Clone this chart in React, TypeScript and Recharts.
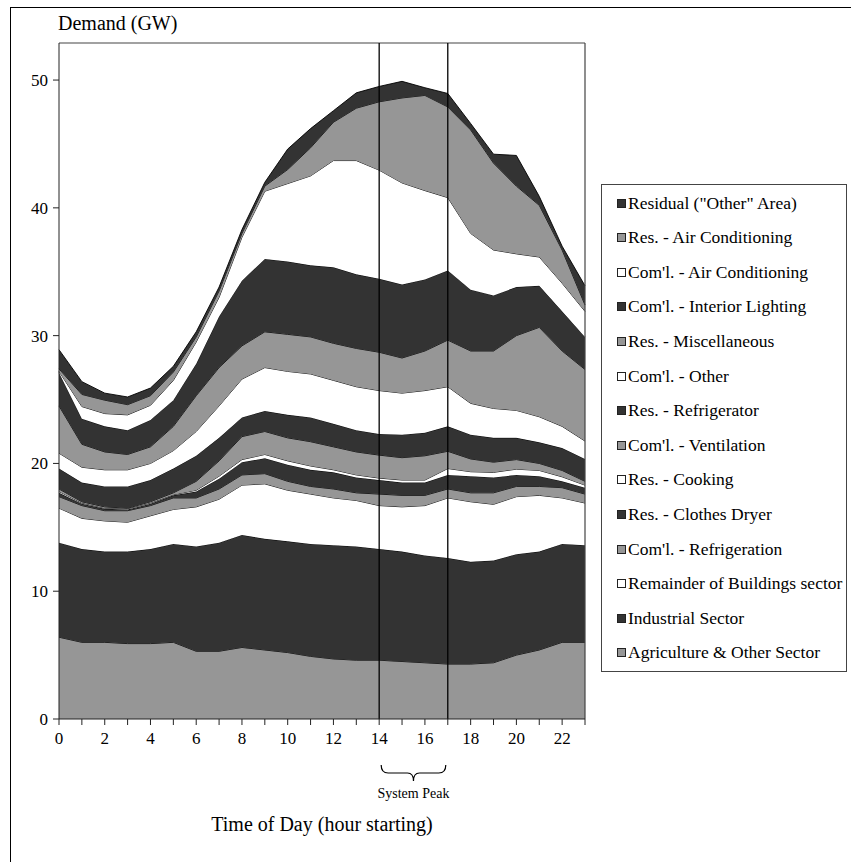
import { AreaChart, Area, XAxis, YAxis, ReferenceLine } from 'recharts';

// hour of day (hour starting)
const hours = [0, 1, 2, 3, 4, 5, 6, 7, 8, 9, 10, 11, 12, 13, 14, 15, 16, 17, 18, 19, 20, 21, 22, 23];
const xTicks = hours;
const yTicks = [0, 10, 20, 30, 40, 50];

// GW per layer (bottom layer first)
const agriculture = [6.4, 6.0, 6.0, 5.9, 5.9, 6.0, 5.3, 5.3, 5.6, 5.4, 5.2, 4.9, 4.7, 4.6, 4.6, 4.5, 4.4, 4.3, 4.3, 4.4, 5.0, 5.4, 6.0, 6.0];
const industrial = [7.4, 7.3, 7.1, 7.2, 7.4, 7.7, 8.2, 8.5, 8.8, 8.7, 8.7, 8.8, 8.9, 8.9, 8.7, 8.6, 8.4, 8.3, 8.0, 8.0, 7.9, 7.7, 7.7, 7.6];
const remainder = [2.7, 2.4, 2.4, 2.3, 2.6, 2.7, 3.1, 3.4, 3.9, 4.3, 4.0, 3.9, 3.7, 3.6, 3.4, 3.5, 3.9, 4.7, 4.7, 4.4, 4.5, 4.4, 3.6, 3.3];
const comRefrigeration = [0.9, 1.0, 0.8, 0.9, 0.8, 0.9, 0.7, 0.8, 0.8, 0.8, 0.7, 0.6, 0.7, 0.6, 0.9, 0.9, 0.8, 0.7, 0.7, 0.9, 0.8, 0.7, 0.8, 0.7];
const resDryer = [0.3, 0.15, 0.15, 0.1, 0.15, 0.2, 0.5, 0.8, 1.0, 1.2, 1.3, 1.3, 1.3, 1.2, 1.1, 1.0, 1.0, 1.1, 1.3, 1.2, 0.9, 0.8, 0.5, 0.5];
const resCooking = [0.1, 0.05, 0.05, 0.05, 0.05, 0.05, 0.1, 0.2, 0.2, 0.3, 0.3, 0.3, 0.2, 0.2, 0.15, 0.2, 0.2, 0.5, 0.35, 0.4, 0.45, 0.45, 0.35, 0.2];
const comVentilation = [0.2, 0.1, 0.1, 0.05, 0.1, 0.15, 0.7, 1.2, 1.8, 1.8, 1.8, 1.9, 1.8, 1.8, 1.8, 1.75, 1.9, 1.35, 1.0, 0.8, 0.75, 0.55, 0.5, 0.3];
const resRefrigerator = [1.6, 1.5, 1.6, 1.7, 1.7, 1.9, 2.0, 1.8, 1.5, 1.6, 1.8, 1.9, 1.8, 1.7, 1.65, 1.8, 1.8, 1.95, 1.9, 1.9, 1.7, 1.65, 1.75, 1.75];
const comOther = [1.2, 1.2, 1.3, 1.3, 1.3, 1.4, 1.9, 2.5, 3.0, 3.4, 3.4, 3.4, 3.4, 3.4, 3.4, 3.25, 3.3, 3.1, 2.45, 2.3, 2.15, 2.0, 1.7, 1.4];
const resMisc = [3.7, 1.8, 1.4, 1.2, 1.3, 1.9, 2.8, 3.0, 2.6, 2.8, 2.9, 2.9, 2.9, 3.0, 3.0, 2.75, 3.1, 3.65, 4.1, 4.5, 5.85, 7.0, 5.9, 5.6];
const comLighting = [2.6, 2.0, 2.0, 1.9, 2.1, 2.05, 2.5, 4.0, 5.1, 5.7, 5.7, 5.6, 5.95, 5.8, 5.75, 5.75, 5.6, 5.45, 4.8, 4.35, 3.8, 3.25, 3.1, 2.55];
const comAC = [0.1, 0.95, 1.0, 1.2, 1.15, 1.55, 1.7, 1.5, 3.4, 5.3, 6.1, 7.0, 8.35, 8.9, 8.5, 7.95, 6.95, 5.7, 4.4, 3.55, 2.6, 2.25, 2.2, 2.0];
const resAC = [0.2, 0.95, 1.05, 0.8, 0.75, 0.65, 0.4, 0.5, 0.3, 0.4, 1.1, 2.2, 3.0, 4.1, 5.35, 6.65, 7.45, 7.1, 8.1, 6.8, 5.3, 4.05, 2.6, 0.5];
const residual = [1.5, 1.0, 0.55, 0.6, 0.6, 0.45, 0.4, 0.3, 0.3, 0.3, 1.6, 1.5, 0.9, 1.2, 1.2, 1.3, 0.6, 1.05, 0.5, 0.7, 2.4, 0.7, 0.3, 1.5];

const DARK = '#333333';
const GRAY = '#969696';
const WHITE = '#ffffff';

// stacking order, bottom to top
const series = [
  { key: 'agriculture', name: 'Agriculture & Other Sector', fill: GRAY, values: agriculture },
  { key: 'industrial', name: 'Industrial Sector', fill: DARK, values: industrial },
  { key: 'remainder', name: 'Remainder of Buildings sector', fill: WHITE, values: remainder },
  { key: 'comRefrigeration', name: "Com'l. - Refrigeration", fill: GRAY, values: comRefrigeration },
  { key: 'resDryer', name: 'Res. - Clothes Dryer', fill: DARK, values: resDryer },
  { key: 'resCooking', name: 'Res. - Cooking', fill: WHITE, values: resCooking },
  { key: 'comVentilation', name: "Com'l. - Ventilation", fill: GRAY, values: comVentilation },
  { key: 'resRefrigerator', name: 'Res. - Refrigerator', fill: DARK, values: resRefrigerator },
  { key: 'comOther', name: "Com'l. - Other", fill: WHITE, values: comOther },
  { key: 'resMisc', name: 'Res. - Miscellaneous', fill: GRAY, values: resMisc },
  { key: 'comLighting', name: "Com'l. - Interior Lighting", fill: DARK, values: comLighting },
  { key: 'comAC', name: "Com'l. - Air Conditioning", fill: WHITE, values: comAC },
  { key: 'resAC', name: 'Res. - Air Conditioning', fill: GRAY, values: resAC },
  { key: 'residual', name: 'Residual ("Other" Area)', fill: DARK, values: residual },
];

const data = hours.map((hour, i) => {
  const row: Record<string, number> = { hour };
  series.forEach((s) => {
    row[s.key] = s.values[i];
  });
  return row;
});

const W = 851;
const H = 862;
const PLOT_LEFT = 59;
const PLOT_TOP = 43;
const PLOT_RIGHT = 585;
const PLOT_BOTTOM = 719;
const Y_MAX = 52.9;
const SERIF = '"Liberation Serif", "Times New Roman", serif';

const hx = (h: number) => PLOT_LEFT + (h / 23) * (PLOT_RIGHT - PLOT_LEFT);

function Brace() {
  const a = hx(14) + 2;
  const b = hx(17) - 2;
  const m = (a + b) / 2;
  const top = 765;
  const mid = 773;
  const tip = 781;
  const d = `M${a},${top} Q${a},${mid} ${a + 7},${mid} L${m - 6},${mid} Q${m},${mid} ${m},${tip} Q${m},${mid} ${m + 6},${mid} L${b - 7},${mid} Q${b},${mid} ${b},${top}`;
  return (
    <svg width={W} height={H} style={{ position: 'absolute', left: 0, top: 0, pointerEvents: 'none' }}>
      <path d={d} fill="none" stroke="#000" strokeWidth={1.2} />
      <text x={m} y={798} textAnchor="middle" fontFamily={SERIF} fontSize={14} fill="#000">
        System Peak
      </text>
      <text x={(PLOT_LEFT + PLOT_RIGHT) / 2} y={831} textAnchor="middle" fontFamily={SERIF} fontSize={20} fill="#000">
        Time of Day (hour starting)
      </text>
    </svg>
  );
}

function LegendBox() {
  const items = [...series].reverse();
  return (
    <div
      style={{
        position: 'absolute',
        left: 601,
        top: 184,
        width: 246,
        height: 488,
        border: '1px solid #444',
        boxSizing: 'border-box',
        fontFamily: SERIF,
        fontSize: 17.5,
        color: '#000',
      }}
    >
      {items.map((s, i) => (
        <div
          key={s.key}
          style={{
            position: 'absolute',
            left: 15,
            top: 18 + i * 34.6 - 10,
            height: 20,
            display: 'flex',
            alignItems: 'center',
            whiteSpace: 'nowrap',
          }}
        >
          <span
            style={{
              display: 'inline-block',
              width: 7,
              height: 7,
              background: s.fill,
              border: '1px solid #222',
              marginRight: 2,
            }}
          />
          <span>{s.name}</span>
        </div>
      ))}
    </div>
  );
}

export default function App() {
  return (
    <div style={{ position: 'absolute', left: 0, top: 0, width: W, height: H, overflow: 'hidden', background: '#fff' }}>
      <div
        style={{
          position: 'absolute',
          left: 10,
          top: 7,
          width: W,
          height: H,
          borderLeft: '1.5px solid #000',
          borderTop: '1.5px solid #000',
        }}
      />
      <div
        style={{
          position: 'absolute',
          left: 58,
          top: 10,
          fontFamily: SERIF,
          fontSize: 20,
          color: '#000',
          lineHeight: '26px',
        }}
      >
        Demand (GW)
      </div>
      <div style={{ position: 'absolute', left: 0, top: 0 }}>
        <AreaChart
          width={W}
          height={H}
          data={data}
          margin={{ top: PLOT_TOP, right: W - PLOT_RIGHT, bottom: H - PLOT_BOTTOM - 30, left: PLOT_LEFT - 40 }}
        >
          <XAxis
            dataKey="hour"
            type="number"
            domain={[0, 23]}
            ticks={xTicks}
            interval={0}
            tickFormatter={(h: number) => (h % 2 === 0 ? String(h) : '')}
            height={30}
            tickSize={6}
            tickMargin={7}
            axisLine={{ stroke: '#222' }}
            tickLine={{ stroke: '#222' }}
            tick={{ fontSize: 17, fill: '#000', fontFamily: SERIF }}
          />
          <YAxis
            type="number"
            domain={[0, Y_MAX]}
            ticks={yTicks}
            width={40}
            tickSize={6}
            tickMargin={5}
            allowDataOverflow
            axisLine={{ stroke: '#222' }}
            tickLine={{ stroke: '#222' }}
            tick={{ fontSize: 17, fill: '#000', fontFamily: SERIF }}
          />
          {series.map((s) => (
            <Area
              key={s.key}
              type="linear"
              dataKey={s.key}
              name={s.name}
              stackId="1"
              stroke="#000"
              strokeWidth={0.9}
              fill={s.fill}
              fillOpacity={1}
              dot={false}
              activeDot={false}
              isAnimationActive={false}
            />
          ))}
          <ReferenceLine y={Y_MAX} stroke="#444" strokeWidth={1.2} />
          <ReferenceLine x={23} stroke="#444" strokeWidth={1.2} />
          <ReferenceLine x={14} stroke="#000" strokeWidth={1.3} />
          <ReferenceLine x={17} stroke="#000" strokeWidth={1.3} />
        </AreaChart>
      </div>
      <Brace />
      <LegendBox />
    </div>
  );
}
